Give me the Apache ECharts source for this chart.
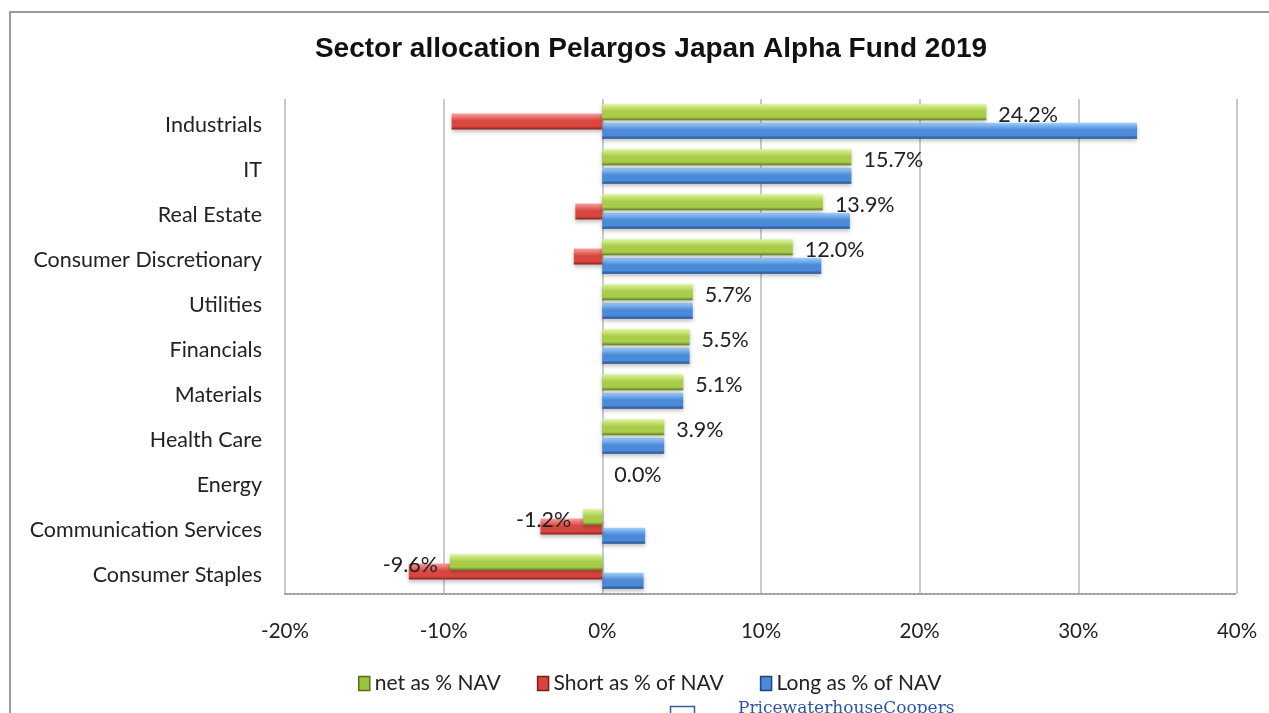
<!DOCTYPE html>
<html>
<head>
<meta charset="utf-8">
<script src="https://cdn.jsdelivr.net/npm/echarts@6/dist/echarts.min.js"></script>
<style>
  html, body { margin: 0; padding: 0; background: #fff; }
  #frame { position: absolute; left: 9px; top: 11px; width: 1400px; height: 800px; border-top: 2px solid #9a9a9a; border-left: 2px solid #9a9a9a; }
  #chart { position: absolute; left: 0; top: 0; width: 1269px; height: 713px; }
</style>
</head>
<body>
<div id="frame"></div>
<div id="chart"></div>
<script>
  // sectors, top to bottom
  var sectors = ['Industrials', 'IT', 'Real Estate', 'Consumer Discretionary', 'Utilities', 'Financials',
    'Materials', 'Health Care', 'Energy', 'Communication Services', 'Consumer Staples'];
  var netNav = [24.2, 15.7, 13.9, 12.0, 5.7, 5.5, 5.1, 3.9, 0.0, -1.2, -9.6];
  var shortNav = [-9.5, 0, -1.7, -1.8, 0, 0, 0, 0, 0, -3.9, -12.2];
  var longNav = [33.7, 15.7, 15.6, 13.8, 5.7, 5.5, 5.1, 3.9, 0, 2.7, 2.6];
  var xTicks = [-20, -10, 0, 10, 20, 30, 40];

  var font = 'Lato, "Open Sans", sans-serif';

  function bevel(light, mid, dark) {
    return new echarts.graphic.LinearGradient(0, 0, 0, 1, [
      {offset: 0, color: light},
      {offset: 0.45, color: mid},
      {offset: 0.8, color: mid},
      {offset: 1, color: dark}
    ]);
  }

  var myChart = echarts.init(document.getElementById('chart'));
  var option = {
    animation: false,
    title: {
      text: 'Sector allocation Pelargos Japan Alpha Fund 2019',
      left: 646,
      top: 30,
      textAlign: 'center',
      textStyle: {
        fontFamily: '"Liberation Sans Narrow", "Liberation Sans", Arial, sans-serif',
        fontWeight: 'bold',
        fontSize: 28,
        color: '#111'
      }
    },
    legend: {
      bottom: 14,
      left: 353,
      itemWidth: 11,
      itemHeight: 14,
      itemGap: 36,
      icon: 'rect',
      textStyle: {fontFamily: font, fontSize: 21, color: '#222'},
      data: [
        {name: 'net as % NAV', itemStyle: {color: '#9cc23f', borderColor: '#56711a', borderWidth: 1.5}},
        {name: 'Short as % of NAV', itemStyle: {color: '#d8453e', borderColor: '#7d1b18', borderWidth: 1.5}},
        {name: 'Long as % of NAV', itemStyle: {color: '#4a8ad8', borderColor: '#1d4784', borderWidth: 1.5}}
      ]
    },
    grid: {
      left: 285,
      right: 32,
      top: 99,
      bottom: 119
    },
    xAxis: {
      type: 'value',
      min: xTicks[0],
      max: xTicks[xTicks.length - 1],
      interval: 10,
      axisLabel: {
        formatter: '{value}%',
        fontFamily: font,
        fontSize: 20.5,
        color: '#222',
        margin: 27
      },
      axisLine: {show: true, lineStyle: {color: '#999', type: [2, 2], width: 2}},
      axisTick: {show: false},
      splitLine: {show: true, lineStyle: {color: '#b8b8b8', width: 1.5}}
    },
    yAxis: {
      type: 'category',
      inverse: true,
      data: sectors,
      axisLabel: {
        margin: 23,
        formatter: function (v) { return '{s|' + v + '}'; },
        rich: {
          s: {fontFamily: font, fontSize: 21.5, color: '#222', padding: [7, 0, 0, 0]}
        }
      },
      axisLine: {show: false},
      axisTick: {show: false},
      splitLine: {show: false}
    },
    series: [
      {
        name: 'net as % NAV',
        type: 'bar',
        barWidth: 16,
        barGap: '-42%',
        z: 4,
        itemStyle: {
          color: bevel('#dff59a', '#a9cc4a', '#5d7a1f'),
          shadowColor: 'rgba(0,0,0,0.25)',
          shadowBlur: 4,
          shadowOffsetY: 2
        },
        label: {
          show: true,
          fontFamily: font,
          fontSize: 21.5,
          color: '#222',
          distance: 12,
          offset: [0, 3],
          formatter: function (p) { return p.value.toFixed(1) + '%'; }
        },
        data: netNav.map(function (v) {
          return {value: v, label: {position: v < 0 ? 'left' : 'right'}};
        })
      },
      {
        name: 'Short as % of NAV',
        type: 'bar',
        barWidth: 16,
        barGap: '-42%',
        z: 3,
        itemStyle: {
          color: bevel('#f7a0a0', '#d9473f', '#8c1f1c'),
          shadowColor: 'rgba(0,0,0,0.25)',
          shadowBlur: 4,
          shadowOffsetY: 2
        },
        data: shortNav
      },
      {
        name: 'Long as % of NAV',
        type: 'bar',
        barWidth: 16,
        barGap: '-42%',
        z: 2,
        itemStyle: {
          color: bevel('#9fd0fa', '#4b8ad8', '#1f4c8c'),
          shadowColor: 'rgba(0,0,0,0.25)',
          shadowBlur: 4,
          shadowOffsetY: 2
        },
        data: longNav
      }
    ],
    graphic: [
      {
        type: 'rect',
        left: 668,
        top: 704,
        shape: {width: 24, height: 14},
        style: {fill: 'none', stroke: '#3a5a9a', lineWidth: 1.5}
      },
      {
        type: 'text',
        left: 738,
        top: 700,
        style: {
          text: 'PricewaterhouseCoopers',
          fill: '#2f55a8',
          font: '17px "DejaVu Serif", "Liberation Serif", serif'
        }
      }
    ]
  };
  myChart.setOption(option);
</script>
</body>
</html>
